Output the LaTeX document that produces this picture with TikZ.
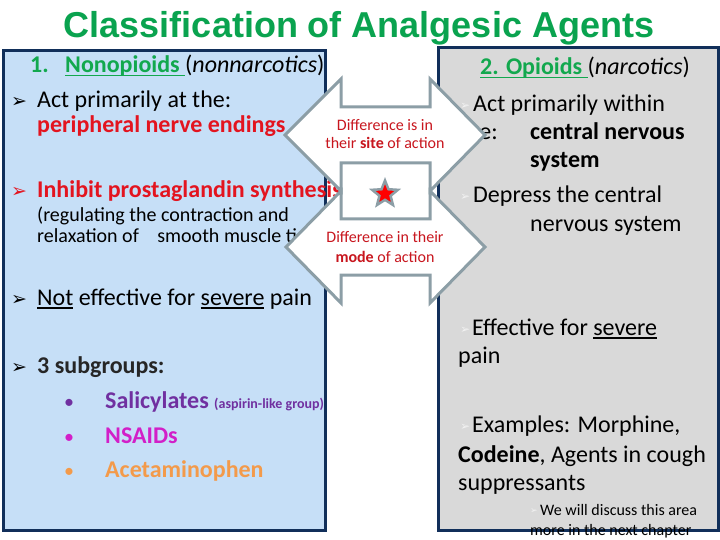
\documentclass[tikz,border=0pt]{standalone}
\usepackage{fontspec}
\setmainfont{Carlito}
\newfontfamily\titlefont{Liberation Sans}
\newfontfamily\symfont{DejaVu Sans}
\usetikzlibrary{shapes.geometric}
\newcommand\myul[1]{\setbox0\hbox{#1}\rlap{\raisebox{-3.5pt}{\rule{\wd0}{1.8pt}}}\box0\relax}
\definecolor{titlegreen}{HTML}{0AA34F}
\definecolor{labgreen}{HTML}{12A84E}
\definecolor{leftfill}{HTML}{C6DFF7}
\definecolor{rightfill}{HTML}{D9D9D9}
\definecolor{navy}{HTML}{112F5A}
\definecolor{arrgray}{HTML}{8C9EA6}
\definecolor{hotred}{HTML}{E3141F}
\definecolor{darkred}{HTML}{C8161E}
\definecolor{purp}{HTML}{7030A0}
\definecolor{magen}{HTML}{D21FC8}
\definecolor{orng}{HTML}{F39A4A}
\definecolor{darktext}{HTML}{262626}
\definecolor{lightbul}{HTML}{F2F2F2}
\begin{document}
\begin{tikzpicture}[x=1pt,y=-1pt,
  txt/.style={anchor=base west, inner sep=0pt, font=\fontsize{24}{28}\selectfont},
  btxt/.style={anchor=base west, inner sep=0pt, font=\bfseries\fontsize{24}{28}\selectfont},
  smalltxt/.style={anchor=base west, inner sep=0pt, font=\fontsize{20}{24}\selectfont},
  bul/.style={anchor=base west, inner sep=0pt, font=\symfont\fontsize{19}{19}\selectfont},
  rbul/.style={anchor=base west, inner sep=0pt, text=lightbul, font=\symfont\fontsize{12}{12}\selectfont},
  dot/.style={anchor=base west, inner sep=0pt, font=\fontsize{20}{24}\selectfont},
  panel/.style={draw=navy, line width=3pt},
  arrowshape/.style={fill=white, draw=arrgray, line width=3pt, line join=miter},
  arrtxt/.style={anchor=base, inner sep=0pt, text=darkred, font=\fontsize{16}{18}\selectfont}]
\path[use as bounding box] (0,0) rectangle (720,540);
\fill[white] (0,0) rectangle (720,540);

% title
\node[anchor=base, inner sep=0pt, text=titlegreen, font=\titlefont\bfseries\fontsize{36}{40}\selectfont] (title) at (359,38) {Classification of Analgesic Agents};

% panels
\draw[panel, fill=leftfill] (3,51) rectangle (325,530);
\draw[panel, fill=rightfill] (438,48) rectangle (718,530);

% left panel text
\node[btxt, text=labgreen] (l1num) at (30,73) {1.};
\node[txt] (l1) at (65,73) {\textcolor{labgreen}{\bfseries\myul{Nonopioids\ }}(\textit{nonnarcotics})};
\node[bul] (lb1) at (11,108) {➢};
\node[txt] (l2) at (37,108) {Act primarily at the:};
\node[btxt, text=hotred] (l3) at (37,133) {peripheral nerve endings};
\node[bul, text=hotred] (lb2) at (11,198) {➢};
\node[btxt, text=hotred] (l4) at (37,198) {Inhibit prostaglandin synthesis};
\node[smalltxt] (l5) at (37,222) {(regulating the contraction and};
\node[smalltxt] (l6) at (37,243) {relaxation of\hspace{14pt} smooth muscle ti};
\node[bul] (lb3) at (11,305) {➢};
\node[txt] (l7) at (37,305) {\myul{Not} effective for \myul{severe} pain};
\node[bul] (lb4) at (11,373) {➢};
\node[btxt, text=darktext] (l8) at (37,373) {3 subgroups:};
\node[dot, text=purp] (d1) at (64,408) {•};
\node[btxt, text=purp] (s1) at (105,408) {Salicylates \fontsize{14}{16}\selectfont(aspirin-like group)};
\node[dot, text=magen] (d2) at (64,443) {•};
\node[btxt, text=magen] (s2) at (105,443) {NSAIDs};
\node[dot, text=orng] (d3) at (64,477) {•};
\node[btxt, text=orng] (s3) at (105,477) {Acetaminophen};

% right panel text
\node[txt] (r1) at (480,75) {\textcolor{labgreen}{\bfseries\myul{2. Opioids\ }}(\textit{narcotics})};
\node[rbul] (rb1) at (460,110) {➢};
\node[txt] (r2) at (473,112) {Act primarily within};
\node[txt, anchor=base east] (r3a) at (498,140) {the:};
\node[btxt] (r3) at (530,140) {central nervous};
\node[btxt] (r4) at (530,168) {system};
\node[rbul] (rb2) at (460,201) {➢};
\node[txt] (r5) at (473,203) {Depress the central};
\node[txt] (r6) at (530,232) {nervous system};
\node[rbul] (rb3) at (460,333) {➢};
\node[txt] (r7) at (472,335) {Effective for \myul{severe}};
\node[txt] (r8) at (458,363) {pain};
\node[rbul] (rb4) at (460,430) {➢};
\node[txt] (r9) at (472,432) {Examples: Morphine,};
\node[txt] (r10) at (458,462) {\textbf{Codeine}, Agents in cough};
\node[txt] (r11) at (458,490) {suppressants};
\node[rbul, font=\symfont\fontsize{9}{9}\selectfont] (rb5) at (530,513) {➢};
\node[anchor=base west, inner sep=0pt, font=\fontsize{16}{18}\selectfont] (r12) at (540,515) {We will discuss this area};
\node[anchor=base west, inner sep=0pt, font=\fontsize{16}{18}\selectfont] (r13) at (530,535.5) {more in the next chapter};

% central double arrows
\draw[arrowshape] (285,135) -- (341,79) -- (341,107) -- (430,107) -- (430,79) -- (485,135)
  -- (430,191) -- (430,163) -- (341,163) -- (341,191) -- cycle;
\draw[arrowshape] (286,247) -- (341,191) -- (341,219) -- (430,219) -- (430,191) -- (485,247)
  -- (430,303) -- (430,275) -- (341,275) -- (341,303) -- cycle;

\node[arrtxt] (a1) at (385,131) {Difference is in};
\node[arrtxt] (a2) at (385,149) {their \textbf{site} of action};
\node[arrtxt] (a3) at (385,243) {Difference in their};
\node[arrtxt] (a4) at (385,262) {\textbf{mode} of action};

\node[star, star points=5, star point ratio=2.3, fill=red, draw=arrgray, line width=2.5pt, minimum size=27pt, inner sep=0pt] (st) at (385,194) {};
\end{tikzpicture}
\end{document}
